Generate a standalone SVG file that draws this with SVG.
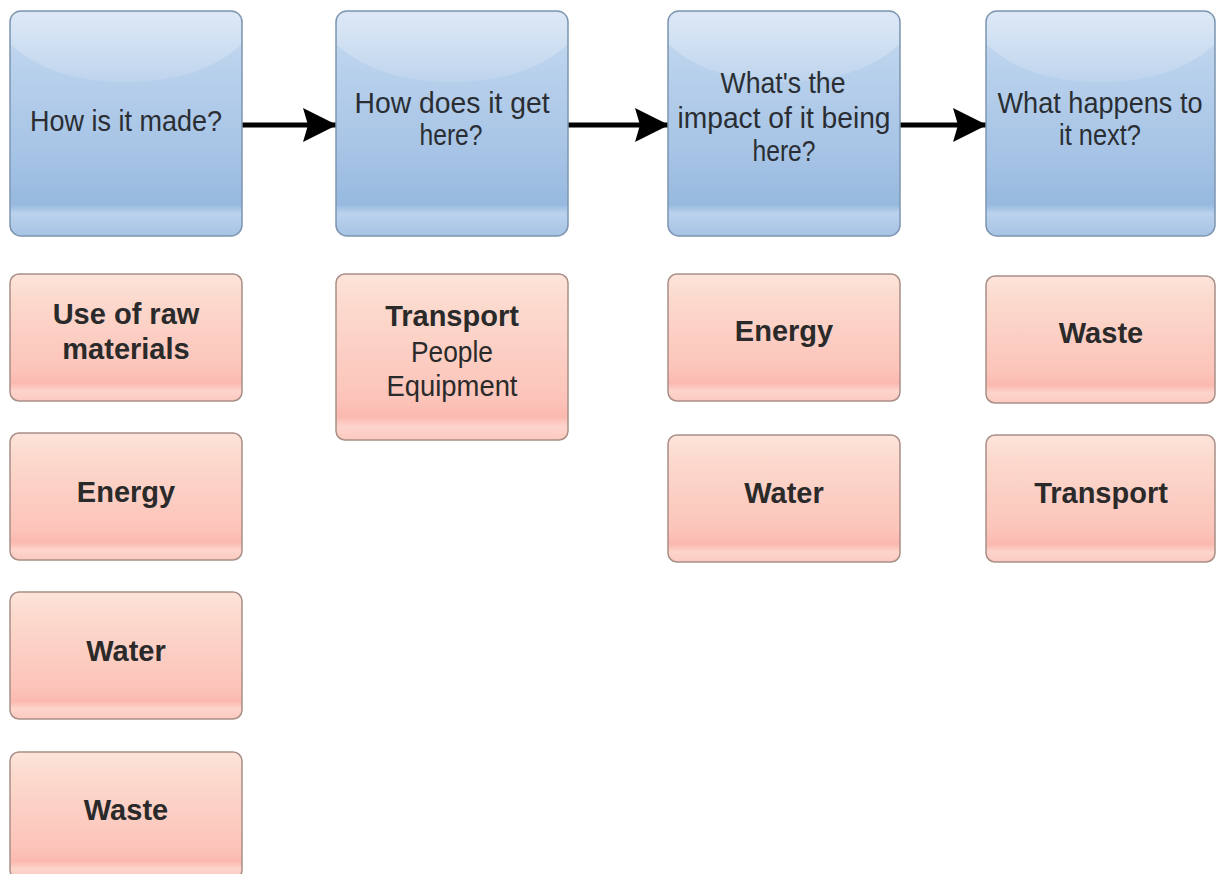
<svg xmlns="http://www.w3.org/2000/svg" width="1217" height="874" viewBox="0 0 1217 874">
<defs>
<linearGradient id="gBlue" x1="0" y1="0" x2="0" y2="1">
<stop offset="0" stop-color="#cadcf1"/>
<stop offset="0.3" stop-color="#b6cfeb"/>
<stop offset="0.6" stop-color="#a8c5e6"/>
<stop offset="0.86" stop-color="#97b9df"/>
<stop offset="0.9" stop-color="#bbd2ed"/>
<stop offset="1" stop-color="#a6c3e4"/>
</linearGradient>
<linearGradient id="gBlueGloss" x1="0" y1="0" x2="0" y2="1">
<stop offset="0" stop-color="#ffffff" stop-opacity="0.35"/>
<stop offset="1" stop-color="#ffffff" stop-opacity="0.12"/>
</linearGradient>
<linearGradient id="gPink" x1="0" y1="0" x2="0" y2="1">
<stop offset="0" stop-color="#fde4da"/>
<stop offset="0.2" stop-color="#fcd9cd"/>
<stop offset="0.75" stop-color="#fcc4ba"/>
<stop offset="0.86" stop-color="#fbb9b0"/>
<stop offset="0.92" stop-color="#fdd5cc"/>
<stop offset="1" stop-color="#fcc9bf"/>
</linearGradient>
<marker id="arrow" viewBox="0 0 34 34" refX="33" refY="17" markerWidth="34" markerHeight="34" markerUnits="userSpaceOnUse" orient="auto">
<path d="M0,0 L34,17 L0,34 L5,17 Z" fill="#000"/>
</marker>
</defs>
<style>
.blue{fill:url(#gBlue);stroke:#7d95b0;stroke-width:1.5}
.gloss{fill:url(#gBlueGloss)}
.pink{fill:url(#gPink);stroke:#a88e86;stroke-width:1.5}
.q{font-family:"Liberation Sans",Arial,sans-serif;font-size:30px;fill:#2a2e33;text-anchor:middle}
.b{font-family:"Liberation Sans",Arial,sans-serif;font-weight:bold;font-size:29px;fill:#2a2a2a;text-anchor:middle}
.r{font-family:"Liberation Sans",Arial,sans-serif;font-size:30px;fill:#2a2a2a;text-anchor:middle}
.conn{stroke:#000;stroke-width:5;fill:none}
</style>

<g id="connectors">
<line class="conn" x1="242" y1="125" x2="336" y2="125" marker-end="url(#arrow)"/>
<line class="conn" x1="568" y1="125" x2="668" y2="125" marker-end="url(#arrow)"/>
<line class="conn" x1="900" y1="125" x2="986" y2="125" marker-end="url(#arrow)"/>
</g>

<g id="q1">
<rect class="blue" x="10" y="11" width="232" height="225" rx="11"/>
<path class="gloss" d="M21,12 H231 Q241,12 241,22 V45 Q200,82 126,82 Q52,82 11,45 V22 Q11,12 21,12 Z"/>
<text class="q" x="126" y="131" textLength="192" lengthAdjust="spacingAndGlyphs">How is it made?</text>
</g>
<g id="q2">
<rect class="blue" x="336" y="11" width="232" height="225" rx="11"/>
<path class="gloss" d="M347,12 H557 Q567,12 567,22 V45 Q526,82 452,82 Q378,82 337,45 V22 Q337,12 347,12 Z"/>
<text class="q" x="452" y="113" textLength="195" lengthAdjust="spacingAndGlyphs">How does it get</text>
<text class="q" x="451" y="145" textLength="63" lengthAdjust="spacingAndGlyphs">here?</text>
</g>
<g id="q3">
<rect class="blue" x="668" y="11" width="232" height="225" rx="11"/>
<path class="gloss" d="M679,12 H889 Q899,12 899,22 V45 Q858,82 784,82 Q710,82 669,45 V22 Q669,12 679,12 Z"/>
<text class="q" x="783" y="93" textLength="125" lengthAdjust="spacingAndGlyphs">What's the</text>
<text class="q" x="784" y="128" textLength="213" lengthAdjust="spacingAndGlyphs">impact of it being</text>
<text class="q" x="784" y="161" textLength="63" lengthAdjust="spacingAndGlyphs">here?</text>
</g>
<g id="q4">
<rect class="blue" x="986" y="11" width="229" height="225" rx="11"/>
<path class="gloss" d="M997,12 H1204 Q1214,12 1214,22 V45 Q1173,82 1100,82 Q1028,82 987,45 V22 Q987,12 997,12 Z"/>
<text class="q" x="1100" y="113" font-size="28" textLength="205" lengthAdjust="spacingAndGlyphs">What happens to</text>
<text class="q" x="1100" y="145" textLength="82" lengthAdjust="spacingAndGlyphs">it next?</text>
</g>

<g id="c1-raw">
<rect class="pink" x="10" y="274" width="232" height="127" rx="9"/>
<text class="b" x="126" y="324">Use of raw</text>
<text class="b" x="126" y="359">materials</text>
</g>
<g id="c1-energy">
<rect class="pink" x="10" y="433" width="232" height="127" rx="9"/>
<text class="b" x="126" y="502">Energy</text>
</g>
<g id="c1-water">
<rect class="pink" x="10" y="592" width="232" height="127" rx="9"/>
<text class="b" x="126" y="661">Water</text>
</g>
<g id="c1-waste">
<rect class="pink" x="10" y="752" width="232" height="127" rx="9"/>
<text class="b" x="126" y="820">Waste</text>
</g>

<g id="c2-transport">
<rect class="pink" x="336" y="274" width="232" height="166" rx="9"/>
<text class="b" x="452" y="326">Transport</text>
<text class="r" x="452" y="362" textLength="82" lengthAdjust="spacingAndGlyphs">People</text>
<text class="r" x="452" y="396" textLength="131" lengthAdjust="spacingAndGlyphs">Equipment</text>
</g>

<g id="c3-energy">
<rect class="pink" x="668" y="274" width="232" height="127" rx="9"/>
<text class="b" x="784" y="341">Energy</text>
</g>
<g id="c3-water">
<rect class="pink" x="668" y="435" width="232" height="127" rx="9"/>
<text class="b" x="784" y="503">Water</text>
</g>

<g id="c4-waste">
<rect class="pink" x="986" y="276" width="229" height="127" rx="9"/>
<text class="b" x="1101" y="343">Waste</text>
</g>
<g id="c4-transport">
<rect class="pink" x="986" y="435" width="229" height="127" rx="9"/>
<text class="b" x="1101" y="503">Transport</text>
</g>
</svg>
